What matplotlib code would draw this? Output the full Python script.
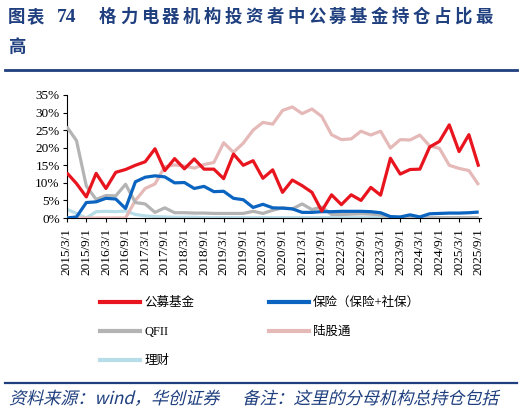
import numpy as np
import pandas as pd
import matplotlib
matplotlib.use('Agg')
import matplotlib.pyplot as plt
from matplotlib.lines import Line2D
from matplotlib.textpath import TextPath
from matplotlib.patches import PathPatch
from matplotlib.font_manager import FontProperties
from matplotlib.transforms import Affine2D

plt.rcParams['font.family'] = ['Liberation Serif', 'Noto Sans CJK SC', 'DejaVu Sans']

# quarterly report dates
dates = pd.date_range('2015-03-01', '2025-09-01', freq='3MS')
labels = [f'{d.year}/{d.month}/1' for d in dates]

# holdings share (%) by institution type
fund = [12.9, 9.8, 6.0, 12.7, 8.4, 13.0, 13.8, 15.0, 16.0, 19.7, 13.5, 16.9, 14.0, 16.8,
        13.9, 13.9, 11.2, 18.2, 15.0, 16.3, 11.3, 13.7, 7.3, 10.8, 9.2, 7.3, 2.0, 6.6,
        3.8, 6.6, 5.0, 8.7, 6.5, 17.0, 12.5, 13.8, 13.9, 20.2, 21.8, 26.5, 18.9, 23.7, 14.6]
insurance = [0.0, 0.3, 4.4, 4.6, 5.6, 5.4, 2.7, 10.3, 11.6, 12.0, 11.7, 10.0, 10.1, 8.4,
             9.0, 7.5, 7.6, 5.6, 5.2, 3.0, 3.9, 2.9, 2.8, 2.6, 1.6, 1.6, 1.8, 1.8,
             1.9, 1.9, 1.9, 1.8, 1.5, 0.4, 0.3, 0.9, 0.3, 1.2, 1.3, 1.4, 1.4, 1.5, 1.7]
qfii = [26.0, 22.0, 9.1, 5.3, 6.4, 6.3, 9.6, 4.4, 4.0, 1.6, 2.9, 1.5, 1.5, 1.4,
        1.4, 1.3, 1.3, 1.3, 1.3, 1.9, 1.3, 2.2, 2.9, 2.6, 4.0, 2.4, 3.1, 1.0,
        1.0, 1.1, 1.2, 1.1, 0.9, 0.1, 0.1, 0.1, 0.1, 0.1, 0.1, 0.1, 0.1, 0.1, 0.1]
hk_connect = [0, 0, 0, 0, 0, 0, 0, 5.0, 8.4, 9.7, 14.6, 15.1, 14.8, 14.2,
              15.2, 15.8, 21.4, 18.7, 21.3, 25.0, 27.2, 26.7, 30.6, 31.6, 29.7, 31.0, 28.9, 23.7,
              22.3, 22.5, 24.7, 23.6, 24.7, 19.9, 22.3, 22.2, 23.6, 20.5, 19.8, 15.0, 14.1, 13.5, 9.4]
wealth = [2.5, 1.3, 0.0, 1.8, 1.9, 1.8, 2.0, 1.0, 0.6, 0.4, 0.3, 0.2, 0.2, 0.2,
          0.1, 0.1, 0.1, 0.1, 0.1, 0.1, 0.1, 0.1, 0.1, 0.1, 0.1, 0.1, 0.1, 0.1,
          0.1, 0.1, 0.1, 0.1, 0.1, 0.1, 0.1, 0.1, 0.1, 0.1, 0.1, 0.1, 0.1, 0.1, 0.1]

names = ['公募基金', '保险（保险+社保）', 'QFII', '陆股通', '理财']
colors = ['#E8141E', '#0A64C0', '#B4B4B4', '#E6B9B9', '#B7DDE8']
navy = '#1F3F7F'

W, H = 524, 419
fig = plt.figure(figsize=(W / 100, H / 100), dpi=100)
ax = fig.add_axes([0.1273, 0.4797, 0.79, 0.2936])

x = np.arange(len(labels))
series = [fund, insurance, qfii, hk_connect, wealth]
zord = [6, 5, 4, 3, 2]
for s, c, z in zip(series, colors, zord):
    ax.plot(x, np.array(s) / 100, color=c, lw=2.3, zorder=z, solid_capstyle='butt')

ax.set_xlim(0, 42.2)
ax.set_ylim(0, 0.35)
yt = np.arange(0, 0.351, 0.05)
ax.set_yticks(yt)
ax.set_yticklabels([f'{int(round(v*100))}%' for v in yt], fontsize=9.5)
ax.set_xticks(x[::2])
ax.set_xticklabels(labels[::2], rotation=90, fontsize=9.5)
ax.tick_params(axis='both', direction='out', length=3, width=0.8, pad=2)
ax.tick_params(axis='x', pad=4)
for sp in ['top', 'right']:
    ax.spines[sp].set_visible(False)
ax.spines['left'].set_linewidth(0.8)
ax.spines['bottom'].set_linewidth(0.8)

# legend in two columns
handles = [Line2D([0], [0], color=c, lw=3) for c in colors]
order = [0, 2, 4, 1, 3]
fig.legend([handles[i] for i in order], [names[i] for i in order],
           ncol=2, loc='upper left', bbox_to_anchor=(0.17, 0.318),
           frameon=False, handlelength=3.2, columnspacing=6.0,
           labelspacing=1.35, handletextpad=0.3,
           prop={'family': ['Liberation Serif', 'Noto Sans CJK SC'], 'size': 9})

# title, placed character by character to get the wide spacing
cjk = ['Noto Sans CJK SC', 'DejaVu Sans']
ty = 1 - 17 / H
for k, ch in enumerate('图表'):
    fig.text((8 + k * 19) / W, ty, ch, fontsize=12.5, fontweight='bold', color=navy,
             family=cjk, va='center')
fig.text(57 / W, ty, '74', fontsize=14, fontweight='bold', color=navy,
         family=['Liberation Serif'], va='center')
for k, ch in enumerate('格力电器机构投资者中公募基金持仓占比最'):
    fig.text((99 + k * 20.9) / W, ty, ch, fontsize=12.5, fontweight='bold',
             color=navy, family=cjk, va='center')
fig.text(8 / W, 1 - 47 / H, '高', fontsize=12.5, fontweight='bold', color=navy,
         family=cjk, va='center')
fig.add_artist(Line2D([5 / W, 517 / W], [1 - 70 / H, 1 - 70 / H], color=navy, lw=2))
fig.add_artist(Line2D([5 / W, 517 / W], [1 - 383 / H, 1 - 383 / H], color=navy, lw=1.6))

# italic-looking source note (sheared text path)
fp = FontProperties(family='Noto Sans CJK SC', size=12.3)
tp = TextPath((0, 0), '资料来源：wind，华创证券      备注：这里的分母机构总持仓包括', prop=fp)
tr = Affine2D().skew_deg(14, 0).scale(1 / 72).translate(9 / 100, (H - 404) / 100) + fig.dpi_scale_trans
fig.add_artist(PathPatch(tp, transform=tr, facecolor=navy, edgecolor='none'))

fig.savefig('out.png', dpi=100)
